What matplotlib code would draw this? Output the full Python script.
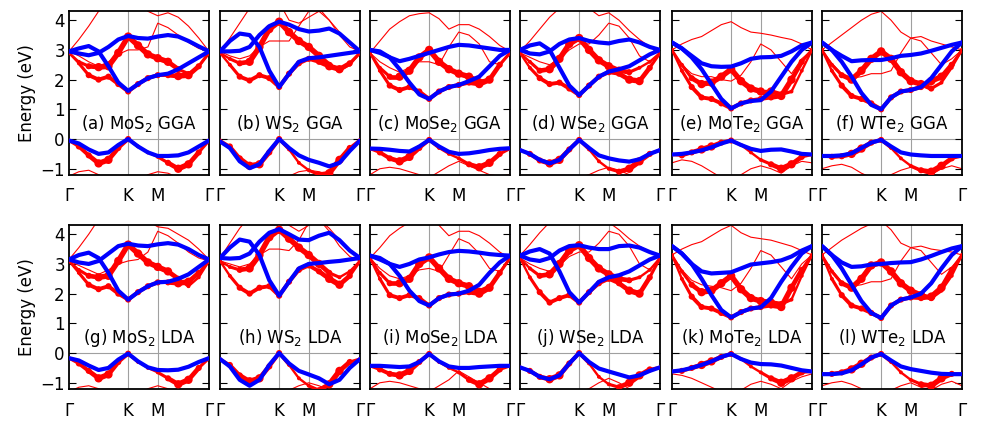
import numpy as np
import matplotlib.pyplot as plt
from matplotlib.collections import LineCollection

# k-path G-K-M-G (units of 2pi/a), high-symmetry ticks
k_path = [0.0, 0.222, 0.444, 0.667, 0.889, 1.111, 1.333, 1.556, 1.778, 2.0,
          2.231, 2.462, 2.693, 2.924, 3.155]
k_ticks = [0.0, 1.333, 2.0, 3.155]
k_names = ['Γ', 'K', 'M', 'Γ']

# fat-band weights (valence, lower conduction, upper conduction)
w_val = [1, 2, 2, 3, 3, 2, 2, 1, 1, 1, 2, 3, 3, 2, 1]
w_c1 = [1, 1, 2, 2, 2, 2, 2, 2, 2, 2, 2, 3, 3, 2, 1]
w_c2 = [1, 1, 2, 3, 3, 3, 3, 3, 3, 3, 3, 2, 1, 1, 1]

labels = ['(a) MoS$_2$ GGA', '(b) WS$_2$ GGA', '(c) MoSe$_2$ GGA',
          '(d) WSe$_2$ GGA', '(e) MoTe$_2$ GGA', '(f) WTe$_2$ GGA',
          '(g) MoS$_2$ LDA', '(h) WS$_2$ LDA', '(i) MoSe$_2$ LDA',
          '(j) WSe$_2$ LDA', '(k) MoTe$_2$ LDA', '(l) WTe$_2$ LDA']

# ---- (a) MoS2 GGA
blue_a = [[-0.05, -0.15, -0.35, -0.50, -0.45, -0.20, 0.0, -0.25, -0.45, -0.57, -0.57, -0.55, -0.45, -0.25, -0.05],
          [2.95, 3.05, 3.13, 2.95, 2.45, 1.90, 1.62, 1.85, 2.05, 2.15, 2.20, 2.35, 2.55, 2.75, 2.95],
          [2.95, 2.88, 2.82, 2.90, 3.10, 3.35, 3.47, 3.40, 3.38, 3.45, 3.50, 3.45, 3.30, 3.12, 2.95]]
fat_a = [[-0.05, -0.25, -0.55, -0.82, -0.70, -0.30, 0.0, -0.25, -0.45, -0.60, -0.80, -1.00, -0.85, -0.45, -0.05],
         [2.9, 2.55, 2.15, 2.0, 2.1, 1.85, 1.6, 1.85, 2.05, 2.15, 2.15, 2.12, 2.15, 2.45, 2.9],
         [2.9, 2.6, 2.45, 2.42, 2.45, 2.9, 3.45, 3.15, 2.85, 2.72, 2.6, 2.35, 2.2, 2.45, 2.9]]
thin_a = [[2.95, 3.35, 3.8, 4.3, 4.7, 4.9, 5.0, 4.6, 4.3, 4.15, 4.25, 4.1, 3.8, 3.4, 2.95],
          [2.95, 2.8, 2.6, 2.45, 2.6, 2.85, 3.0, 3.0, 3.1, 3.9, 3.75, 3.5, 3.25, 3.05, 2.95],
          [-1.25, -1.1, -1.05, -1.2, -1.4, -1.5, -1.6, -1.4, -1.2, -1.1, -1.15, -1.3, -1.4, -1.3, -1.25]]

# ---- (b) WS2 GGA
blue_b = [[-0.08, -0.3, -0.75, -0.98, -0.85, -0.4, 0.0, -0.3, -0.55, -0.7, -0.8, -0.92, -0.8, -0.4, -0.05],
          [2.95, 3.3, 3.55, 3.5, 3.1, 2.3, 1.75, 2.2, 2.6, 2.72, 2.75, 2.8, 2.85, 2.9, 2.95],
          [2.95, 2.95, 2.97, 3.1, 3.5, 3.8, 3.95, 3.85, 3.7, 3.62, 3.65, 3.72, 3.55, 3.25, 2.95]]
fat_b = [[-0.05, -0.25, -0.65, -0.9, -0.85, -0.45, 0.0, -0.35, -0.8, -1.05, -1.2, -1.15, -0.7, -0.3, -0.03],
         [2.9, 2.5, 2.1, 1.97, 2.15, 2.05, 1.75, 2.2, 2.55, 2.7, 2.6, 2.45, 2.35, 2.55, 2.9],
         [2.9, 2.7, 2.55, 2.6, 3.1, 3.7, 3.95, 3.6, 3.3, 3.1, 2.8, 2.5, 2.3, 2.5, 2.9]]
thin_b = [[2.95, 3.4, 3.9, 4.4, 4.8, 4.7, 4.6, 4.0, 3.9, 4.1, 4.3, 4.0, 3.6, 3.25, 2.95],
          [2.95, 2.8, 2.7, 2.8, 3.1, 3.3, 3.3, 3.3, 3.8, 4.3, 4.4, 4.0, 3.5, 3.1, 2.95],
          [-1.3, -1.3, -1.3, -1.3, -1.3, -1.3, -1.3, -1.25, -1.1, -1.05, -1.1, -1.2, -1.3, -1.3, -1.3]]

# ---- (c) MoSe2 GGA
blue_c = [[-0.32, -0.33, -0.36, -0.4, -0.42, -0.25, -0.03, -0.25, -0.43, -0.5, -0.48, -0.43, -0.37, -0.33, -0.31],
          [3.0, 2.95, 2.75, 2.35, 1.9, 1.5, 1.35, 1.6, 1.75, 1.82, 1.95, 2.1, 2.45, 2.8, 3.0],
          [3.0, 2.9, 2.75, 2.62, 2.7, 2.8, 2.9, 3.0, 3.1, 3.17, 3.15, 3.1, 3.05, 3.0, 3.0]]
fat_c = [[-0.32, -0.45, -0.65, -0.75, -0.6, -0.3, -0.03, -0.3, -0.5, -0.65, -0.85, -0.95, -0.8, -0.5, -0.32],
         [2.9, 2.3, 1.8, 1.65, 1.75, 1.6, 1.35, 1.6, 1.75, 1.82, 1.9, 1.85, 2.0, 2.5, 2.9],
         [2.9, 2.4, 2.1, 2.1, 2.3, 2.75, 3.0, 2.6, 2.35, 2.2, 2.1, 1.95, 2.0, 2.5, 2.9]]
thin_c = [[2.9, 3.3, 3.7, 3.95, 4.15, 4.22, 4.25, 4.05, 3.7, 3.85, 3.85, 3.7, 3.45, 3.15, 2.95],
          [2.9, 2.6, 2.4, 2.25, 2.4, 2.6, 2.6, 2.5, 3.1, 3.6, 3.5, 3.2, 2.6, 2.5, 2.9],
          [-1.2, -1.0, -0.95, -1.0, -1.1, -1.2, -1.3, -1.1, -0.9, -0.75, -0.9, -1.05, -1.2, -1.25, -1.2]]

# ---- (d) WSe2 GGA
blue_d = [[-0.37, -0.5, -0.7, -0.82, -0.7, -0.35, -0.03, -0.3, -0.55, -0.65, -0.72, -0.76, -0.68, -0.5, -0.37],
          [3.0, 3.15, 3.22, 3.0, 2.4, 1.8, 1.48, 1.8, 2.1, 2.27, 2.35, 2.45, 2.65, 2.85, 3.0],
          [3.0, 2.88, 2.85, 2.95, 3.2, 3.35, 3.4, 3.3, 3.25, 3.22, 3.3, 3.35, 3.25, 3.1, 3.0]]
fat_d = [[-0.37, -0.5, -0.72, -0.82, -0.7, -0.35, -0.03, -0.35, -0.75, -1.0, -1.1, -1.0, -0.75, -0.5, -0.37],
         [2.9, 2.4, 2.05, 1.85, 1.9, 1.7, 1.48, 1.8, 2.1, 2.25, 2.2, 2.0, 1.95, 2.4, 2.9],
         [2.9, 2.6, 2.3, 2.35, 2.7, 3.2, 3.4, 3.0, 2.65, 2.45, 2.3, 2.25, 2.4, 2.6, 2.9]]
thin_d = [[2.95, 3.3, 3.7, 4.1, 4.4, 4.6, 4.7, 4.4, 4.15, 4.25, 4.0, 3.65, 3.35, 3.1, 2.95],
          [2.9, 2.75, 2.6, 2.5, 2.7, 3.0, 3.2, 3.2, 3.5, 3.9, 3.8, 3.4, 2.8, 2.6, 2.9],
          [-1.3, -1.25, -1.25, -1.3, -1.3, -1.3, -1.3, -1.2, -1.05, -0.95, -1.05, -1.2, -1.3, -1.3, -1.3]]

# ---- (e) MoTe2 GGA
blue_e = [[-0.52, -0.5, -0.45, -0.38, -0.28, -0.15, -0.05, -0.2, -0.33, -0.4, -0.36, -0.35, -0.42, -0.5, -0.52],
          [3.25, 3.05, 2.75, 2.35, 1.85, 1.35, 1.03, 1.2, 1.28, 1.31, 1.6, 2.1, 2.6, 3.0, 3.25],
          [3.25, 3.05, 2.8, 2.55, 2.45, 2.43, 2.44, 2.55, 2.7, 2.75, 2.76, 2.8, 2.95, 3.15, 3.25]]
fat_e = [[-0.52, -0.55, -0.45, -0.35, -0.25, -0.12, -0.05, -0.2, -0.45, -0.7, -0.85, -1.0, -0.85, -0.6, -0.52],
         [3.0, 2.3, 1.75, 1.4, 1.35, 1.2, 1.03, 1.2, 1.3, 1.35, 1.4, 1.45, 2.0, 2.6, 3.0],
         [3.0, 2.5, 2.05, 1.85, 1.9, 2.1, 2.35, 1.95, 1.7, 1.6, 1.6, 1.5, 1.6, 2.3, 3.0]]
thin_e = [[3.0, 3.2, 3.35, 3.45, 3.65, 3.85, 3.95, 3.75, 3.6, 3.56, 3.5, 3.42, 3.35, 3.2, 3.0],
          [3.0, 2.5, 2.2, 2.1, 2.1, 2.0, 1.95, 2.15, 2.6, 3.2, 3.0, 2.6, 2.2, 2.7, 3.0],
          [-0.8, -0.7, -0.75, -0.9, -1.1, -1.3, -1.4, -1.2, -1.0, -0.9, -1.0, -1.15, -0.9, -0.75, -0.8]]

# ---- (f) WTe2 GGA
blue_f = [[-0.57, -0.57, -0.55, -0.48, -0.3, -0.12, -0.03, -0.25, -0.45, -0.52, -0.55, -0.57, -0.57, -0.57, -0.57],
          [3.25, 3.0, 2.6, 2.1, 1.55, 1.15, 1.0, 1.4, 1.6, 1.65, 1.75, 2.05, 2.5, 2.95, 3.25],
          [3.25, 3.0, 2.8, 2.62, 2.65, 2.66, 2.66, 2.72, 2.8, 2.83, 2.88, 2.97, 3.07, 3.17, 3.25]]
fat_f = [[-0.57, -0.6, -0.58, -0.5, -0.32, -0.12, -0.03, -0.3, -0.65, -0.9, -1.05, -1.1, -0.9, -0.65, -0.57],
         [3.0, 2.3, 1.8, 1.45, 1.35, 1.2, 1.0, 1.4, 1.6, 1.65, 1.75, 1.95, 2.1, 2.5, 3.0],
         [3.0, 2.5, 2.15, 2.0, 2.3, 2.7, 2.95, 2.7, 2.25, 1.95, 1.85, 1.7, 1.9, 2.4, 3.0]]
thin_f = [[3.0, 3.25, 3.5, 3.75, 4.0, 4.2, 4.3, 4.0, 3.6, 3.4, 3.45, 3.3, 3.2, 3.1, 3.0],
          [3.0, 2.55, 2.2, 2.05, 2.1, 2.2, 2.2, 2.3, 2.9, 3.4, 3.3, 2.9, 2.5, 2.7, 3.0],
          [-1.0, -0.9, -0.85, -0.95, -1.15, -1.3, -1.4, -1.2, -1.05, -0.95, -1.1, -1.2, -1.0, -0.9, -1.0]]

# ---- (g) MoS2 LDA
blue_g = [[-0.17, -0.25, -0.42, -0.57, -0.5, -0.22, -0.02, -0.28, -0.48, -0.57, -0.58, -0.56, -0.46, -0.3, -0.17],
          [3.15, 3.3, 3.38, 3.2, 2.7, 2.1, 1.8, 2.05, 2.25, 2.38, 2.4, 2.5, 2.65, 2.9, 3.15],
          [3.15, 3.05, 3.0, 3.1, 3.35, 3.6, 3.68, 3.62, 3.6, 3.66, 3.7, 3.65, 3.5, 3.3, 3.15]]
fat_g = [[-0.17, -0.35, -0.6, -0.85, -0.72, -0.3, -0.02, -0.3, -0.5, -0.65, -0.85, -1.05, -0.9, -0.5, -0.17],
         [3.1, 2.7, 2.3, 2.15, 2.25, 2.0, 1.8, 2.05, 2.25, 2.38, 2.38, 2.35, 2.4, 2.7, 3.1],
         [3.1, 2.8, 2.6, 2.55, 2.6, 3.1, 3.65, 3.35, 3.05, 2.9, 2.75, 2.5, 2.25, 2.55, 3.1]]
thin_g = [[3.15, 3.55, 4.0, 4.5, 4.8, 5.0, 5.1, 4.8, 4.45, 4.25, 4.2, 4.0, 3.8, 3.5, 3.15],
          [3.1, 2.95, 2.8, 2.65, 2.8, 3.0, 3.1, 3.15, 3.4, 4.1, 3.95, 3.7, 3.4, 3.2, 3.1],
          [-1.3, -1.15, -1.1, -1.2, -1.4, -1.5, -1.6, -1.4, -1.2, -1.1, -1.2, -1.3, -1.4, -1.35, -1.3]]

# ---- (h) WS2 LDA
blue_h = [[-0.2, -0.45, -0.9, -1.1, -0.9, -0.4, 0.0, -0.35, -0.6, -0.72, -0.85, -1.05, -0.9, -0.5, -0.2],
          [3.2, 3.55, 3.82, 3.75, 3.3, 2.45, 1.93, 2.4, 2.85, 3.0, 3.03, 3.07, 3.1, 3.15, 3.2],
          [3.2, 3.18, 3.2, 3.35, 3.75, 4.05, 4.17, 4.0, 3.82, 3.8, 3.95, 4.05, 3.8, 3.45, 3.2]]
fat_h = [[-0.2, -0.4, -0.75, -0.95, -0.85, -0.45, 0.0, -0.4, -0.85, -1.1, -1.25, -1.05, -0.6, -0.3, -0.2],
         [3.1, 2.6, 2.2, 2.0, 2.2, 2.25, 1.93, 2.4, 2.8, 2.95, 2.75, 2.5, 2.3, 2.6, 3.1],
         [3.1, 2.9, 2.8, 2.85, 3.3, 3.9, 4.15, 3.85, 3.55, 3.3, 3.0, 2.7, 2.55, 2.75, 3.1]]
thin_h = [[3.2, 3.7, 4.2, 4.6, 4.9, 4.8, 4.7, 4.3, 4.1, 4.3, 4.5, 4.2, 3.8, 3.45, 3.2],
          [3.1, 3.0, 2.9, 3.0, 3.3, 3.5, 3.5, 3.45, 3.8, 4.4, 4.5, 4.1, 3.6, 3.25, 3.1],
          [-1.35, -1.35, -1.35, -1.35, -1.35, -1.35, -1.35, -1.25, -1.1, -1.0, -1.1, -1.25, -1.35, -1.35, -1.35]]

# ---- (i) MoSe2 LDA
blue_i = [[-0.43, -0.43, -0.45, -0.47, -0.45, -0.3, -0.03, -0.28, -0.45, -0.5, -0.5, -0.47, -0.45, -0.43, -0.43],
          [3.28, 3.2, 3.0, 2.6, 2.1, 1.75, 1.6, 1.85, 1.97, 2.0, 2.1, 2.3, 2.7, 3.05, 3.28],
          [3.28, 3.15, 3.0, 2.9, 3.0, 3.15, 3.22, 3.32, 3.4, 3.44, 3.42, 3.38, 3.33, 3.3, 3.28]]
fat_i = [[-0.43, -0.55, -0.7, -0.75, -0.6, -0.3, -0.03, -0.3, -0.5, -0.65, -0.9, -1.05, -0.85, -0.55, -0.43],
         [3.2, 2.5, 1.95, 1.85, 1.95, 1.85, 1.6, 1.85, 1.97, 2.0, 2.05, 2.0, 2.2, 2.7, 3.2],
         [3.2, 2.7, 2.35, 2.35, 2.5, 3.0, 3.22, 2.85, 2.5, 2.35, 2.25, 2.1, 2.25, 2.7, 3.2]]
thin_i = [[3.2, 3.55, 3.95, 4.2, 4.4, 4.5, 4.55, 4.3, 3.95, 4.1, 4.1, 3.95, 3.7, 3.4, 3.2],
          [3.2, 2.85, 2.6, 2.5, 2.6, 2.8, 2.85, 2.75, 3.3, 3.85, 3.7, 3.35, 2.85, 2.75, 3.2],
          [-1.2, -1.0, -0.95, -1.0, -1.1, -1.2, -1.3, -1.1, -0.9, -0.6, -0.8, -1.0, -1.2, -1.25, -1.2]]

# ---- (j) WSe2 LDA
blue_j = [[-0.48, -0.6, -0.8, -0.88, -0.75, -0.35, 0.0, -0.3, -0.52, -0.62, -0.72, -0.82, -0.75, -0.6, -0.48],
          [3.28, 3.42, 3.5, 3.35, 2.75, 2.05, 1.7, 2.05, 2.4, 2.55, 2.62, 2.75, 2.95, 3.15, 3.28],
          [3.28, 3.15, 3.1, 3.2, 3.45, 3.6, 3.63, 3.55, 3.5, 3.5, 3.6, 3.62, 3.55, 3.4, 3.28]]
fat_j = [[-0.48, -0.6, -0.8, -0.88, -0.75, -0.35, 0.0, -0.35, -0.8, -1.05, -1.15, -1.0, -0.75, -0.55, -0.48],
         [3.2, 2.55, 2.05, 1.7, 1.85, 1.95, 1.7, 2.05, 2.35, 2.5, 2.35, 2.1, 2.0, 2.55, 3.2],
         [3.2, 2.85, 2.6, 2.65, 3.0, 3.45, 3.63, 3.2, 2.85, 2.65, 2.5, 2.45, 2.55, 2.8, 3.2]]
thin_j = [[3.28, 3.65, 4.05, 4.4, 4.7, 4.9, 5.0, 4.7, 4.35, 4.4, 4.15, 3.85, 3.6, 3.4, 3.28],
          [3.2, 3.0, 2.85, 2.75, 2.95, 3.25, 3.4, 3.4, 3.7, 4.1, 4.0, 3.6, 3.0, 2.8, 3.2],
          [-1.3, -1.25, -1.25, -1.3, -1.3, -1.3, -1.3, -1.2, -1.0, -0.85, -1.0, -1.2, -1.3, -1.3, -1.3]]

# ---- (k) MoTe2 LDA
blue_k = [[-0.62, -0.58, -0.5, -0.4, -0.28, -0.13, -0.03, -0.2, -0.32, -0.37, -0.38, -0.42, -0.5, -0.58, -0.62],
          [3.6, 3.35, 3.0, 2.5, 1.95, 1.45, 1.2, 1.38, 1.5, 1.54, 1.85, 2.4, 2.9, 3.35, 3.6],
          [3.6, 3.35, 3.0, 2.75, 2.68, 2.7, 2.72, 2.85, 2.98, 3.02, 3.06, 3.12, 3.25, 3.45, 3.6]]
fat_k = [[-0.62, -0.6, -0.5, -0.4, -0.28, -0.13, -0.03, -0.2, -0.45, -0.65, -0.85, -1.0, -0.85, -0.65, -0.62],
         [3.3, 2.5, 1.9, 1.55, 1.5, 1.35, 1.2, 1.38, 1.5, 1.55, 1.6, 1.55, 2.2, 2.8, 3.3],
         [3.3, 2.75, 2.3, 2.05, 2.1, 2.35, 2.6, 2.15, 1.85, 1.75, 1.7, 1.65, 1.8, 2.6, 3.3]]
thin_k = [[3.3, 3.5, 3.65, 3.75, 3.95, 4.15, 4.3, 4.05, 3.9, 3.85, 3.8, 3.7, 3.6, 3.45, 3.3],
          [3.3, 2.8, 2.45, 2.3, 2.25, 2.2, 2.1, 2.35, 2.85, 3.45, 3.3, 2.9, 2.5, 3.0, 3.3],
          [-0.7, -0.75, -0.85, -1.0, -1.15, -1.3, -1.4, -1.25, -1.05, -0.95, -1.05, -1.2, -0.95, -0.8, -0.7]]

# ---- (l) WTe2 LDA
blue_l = [[-0.71, -0.71, -0.68, -0.58, -0.38, -0.15, -0.03, -0.25, -0.45, -0.54, -0.6, -0.66, -0.7, -0.71, -0.71],
          [3.6, 3.3, 2.85, 2.3, 1.75, 1.35, 1.18, 1.6, 1.8, 1.87, 2.0, 2.35, 2.85, 3.3, 3.6],
          [3.6, 3.3, 3.05, 2.9, 2.92, 2.98, 3.0, 3.03, 3.05, 3.06, 3.15, 3.27, 3.4, 3.52, 3.6]]
fat_l = [[-0.71, -0.7, -0.65, -0.55, -0.36, -0.15, -0.03, -0.3, -0.65, -0.9, -1.05, -1.1, -0.85, -0.7, -0.71],
         [3.3, 2.5, 1.95, 1.6, 1.5, 1.35, 1.18, 1.6, 1.8, 1.87, 1.85, 1.9, 2.2, 2.8, 3.3],
         [3.3, 2.75, 2.35, 2.2, 2.5, 2.95, 3.05, 2.75, 2.35, 2.1, 1.95, 1.85, 2.1, 2.6, 3.3]]
thin_l = [[3.3, 3.55, 3.8, 4.0, 4.2, 4.35, 4.45, 4.15, 3.7, 3.55, 3.6, 3.5, 3.45, 3.4, 3.3],
          [3.3, 2.8, 2.4, 2.25, 2.3, 2.4, 2.4, 2.5, 3.1, 3.55, 3.45, 3.05, 2.65, 2.9, 3.3],
          [-1.1, -1.0, -0.95, -1.05, -1.2, -1.35, -1.45, -1.25, -1.1, -1.0, -1.15, -1.25, -1.05, -0.95, -1.1]]

panels = [(blue_a, fat_a, thin_a), (blue_b, fat_b, thin_b), (blue_c, fat_c, thin_c),
          (blue_d, fat_d, thin_d), (blue_e, fat_e, thin_e), (blue_f, fat_f, thin_f),
          (blue_g, fat_g, thin_g), (blue_h, fat_h, thin_h), (blue_i, fat_i, thin_i),
          (blue_j, fat_j, thin_j), (blue_k, fat_k, thin_k), (blue_l, fat_l, thin_l)]


def draw_panel(ax, blue, fat, thin, label):
    k = np.array(k_path)
    ax.axvline(k_ticks[1], color='#a0a0a0', lw=0.8, zorder=1)
    ax.axvline(k_ticks[2], color='#a0a0a0', lw=0.8, zorder=1)
    ax.axhline(0, color='#a0a0a0', lw=0.8, zorder=1)
    for e in thin:
        ax.plot(k, e, color='red', lw=0.8, zorder=2)
    for e, w in zip(fat, [w_val, w_c1, w_c2]):
        w = np.array(w, dtype=float)
        pts = np.column_stack([k, e])
        segs = np.stack([pts[:-1], pts[1:]], axis=1)
        lc = LineCollection(segs, colors='red', linewidths=0.6 + 1.1 * (w[:-1] + w[1:]) / 2,
                            capstyle='round', zorder=3)
        ax.add_collection(lc)
        ax.scatter(k, e, s=(1.2 + 1.6 * w) ** 2, color='red', lw=0, zorder=3)
    for e in blue:
        ax.plot(k, e, color='blue', lw=3, zorder=4, solid_capstyle='round')
    ax.text(k_ticks[-1] / 2, 0.52, label, ha='center', va='center', fontsize=12)
    ax.set_xlim(0, k_ticks[-1])
    ax.set_ylim(-1.21, 4.31)
    ax.set_xticks(k_ticks, k_names)
    ax.set_yticks([-1, 0, 1, 2, 3, 4])
    ax.tick_params(axis='x', length=0, pad=9, labelsize=12)
    ax.tick_params(axis='y', direction='in', length=5, right=True, labelsize=12, pad=3)
    for s in ax.spines.values():
        s.set_linewidth(1.3)


fig = plt.figure(figsize=(9.81, 4.29), dpi=100)
lefts = [69, 220, 370, 520, 672, 822]
for i, (blue, fat, thin) in enumerate(panels):
    row, col = divmod(i, 6)
    bottom = 0.5921 if row == 0 else 0.0932
    ax = fig.add_axes([lefts[col] / 981, bottom, 140 / 981, 164 / 429])
    draw_panel(ax, blue, fat, thin, labels[i])
    if col == 0:
        ax.set_ylabel('Energy (eV)', fontsize=12, labelpad=3)
    else:
        ax.tick_params(axis='y', labelleft=False)

fig.savefig('out.png', dpi=100)
